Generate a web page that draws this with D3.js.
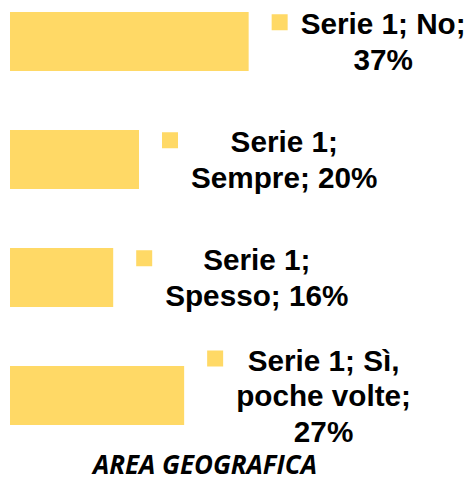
<!DOCTYPE html>
<html>
<head>
<meta charset="utf-8">
<script src="https://cdn.jsdelivr.net/npm/d3@7"></script>
<style>
  html, body { margin: 0; padding: 0; background: #ffffff; }
  svg { display: block; }
</style>
</head>
<body>
<svg id="chart" width="474" height="482"></svg>
<script>
// Survey answers, one bar per answer
const seriesName = "Serie 1";
const categories = ["No", "Sempre", "Spesso", "Sì, poche volte"];
const values = [37, 20, 16, 27];
const axisTitle = "AREA GEOGRAFICA";

const W = 474, H = 482;
const barColor = "#FFD966";
const labelFont = "bold 29.7px 'Liberation Sans', Arial, sans-serif";
const lineH = 35.5;
const wrapWidth = 195;

const svg = d3.select("#chart");

const x = d3.scaleLinear().domain([0, 100]).range([10, 10 + 645]);
const y = d3.scaleBand()
  .domain(categories)
  .range([-17.5, 454.5])
  .paddingInner(0.5)
  .paddingOuter(0.25);

const data = categories.map((c, i) => ({ cat: c, value: values[i] }));

// Bars
svg.append("g").selectAll("rect")
  .data(data)
  .join("rect")
  .attr("x", x(0))
  .attr("y", d => y(d.cat))
  .attr("width", d => x(d.value) - x(0))
  .attr("height", y.bandwidth())
  .attr("fill", barColor);

// Text measuring helper
const measure = svg.append("text").style("font", labelFont).attr("visibility", "hidden");
function textWidth(s) { measure.text(s); return measure.node().getComputedTextLength(); }

function wrap(str) {
  const words = str.split(" ");
  const lines = [];
  let cur = "";
  words.forEach(w => {
    const trial = cur ? cur + " " + w : w;
    if (cur && textWidth(trial) > wrapWidth) { lines.push(cur); cur = w; }
    else cur = trial;
  });
  if (cur) lines.push(cur);
  return lines;
}

// Data labels with legend key
const labels = svg.append("g");
data.forEach(d => {
  const lines = wrap(`${seriesName}; ${d.cat}; ${d.value}%`);
  const blockW = d3.max(lines, l => textWidth(l));
  const keyX = x(d.value) + 23;
  const textLeft = keyX + 29;
  const cy = y(d.cat) + y.bandwidth() / 2;
  const firstBase = cy - (lines.length - 1) * lineH / 2 + 10.5;

  labels.append("rect")
    .attr("x", keyX)
    .attr("y", firstBase - 20)
    .attr("width", 16)
    .attr("height", 16)
    .attr("fill", barColor);

  const t = labels.append("text")
    .style("font", labelFont)
    .attr("fill", "#000")
    .attr("text-anchor", "middle");
  lines.forEach((l, i) => {
    t.append("tspan")
      .attr("x", textLeft + blockW / 2)
      .attr("y", firstBase + i * lineH)
      .text(l);
  });
});
measure.remove();

// Axis title
const title = svg.append("text")
  .attr("x", 205)
  .attr("y", 474)
  .attr("text-anchor", "middle")
  .style("font-family", "'Open Sans', sans-serif")
  .style("font-weight", "bold")
  .style("font-style", "italic")
  .style("font-size", "20px")
  .attr("fill", "#000")
  .text(axisTitle);
const tw = title.node().getComputedTextLength();
title.style("font-size", (20 * 224 / tw).toFixed(2) + "px");
</script>
</body>
</html>
